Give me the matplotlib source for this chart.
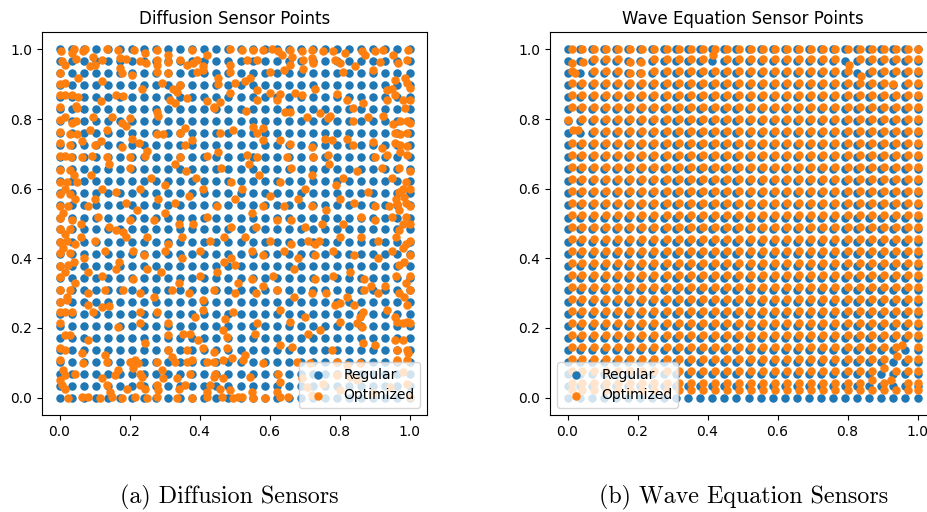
import numpy as np
import matplotlib
matplotlib.use("Agg")
import matplotlib.pyplot as plt

# regular 30x30 sensor grid coordinates
grid_vals = [0.0, 0.0345, 0.069, 0.1034, 0.1379, 0.1724, 0.2069, 0.2414, 0.2759, 0.3103,
             0.3448, 0.3793, 0.4138, 0.4483, 0.4828, 0.5172, 0.5517, 0.5862, 0.6207, 0.6552,
             0.6897, 0.7241, 0.7586, 0.7931, 0.8276, 0.8621, 0.8966, 0.931, 0.9655, 1.0]

# optimized diffusion sensors
diff_pts = [
    # top band
    (0.003, 0.994), (0.037, 0.991), (0.040, 1.0), (0.068, 0.994), (0.073, 1.0), (0.097, 0.979),
    (0.135, 1.0), (0.168, 0.999), (0.214, 0.999), (0.244, 0.991), (0.278, 0.999), (0.311, 0.984),
    (0.378, 0.997), (0.420, 0.984), (0.487, 1.0),
    (0.006, 0.968), (0.016, 0.955), (0.047, 0.972), (0.087, 0.951), (0.101, 0.955), (0.120, 0.970),
    (0.173, 0.975), (0.190, 0.972), (0.230, 0.968), (0.247, 0.960), (0.278, 0.970), (0.278, 0.955),
    (0.311, 0.965), (0.344, 0.970), (0.363, 0.955), (0.382, 0.960), (0.392, 0.970), (0.411, 0.953),
    (0.487, 0.955),
    (0.001, 0.933), (0.173, 0.946), (0.178, 0.932), (0.206, 0.927), (0.278, 0.936), (0.311, 0.933),
    (0.392, 0.936), (0.411, 0.941), (0.487, 0.936),
    (0.0, 0.901), (0.016, 0.903), (0.054, 0.917), (0.120, 0.910), (0.235, 0.886), (0.292, 0.903),
    (0.325, 0.886), (0.335, 0.879), (0.344, 0.898), (0.454, 0.917), (0.454, 0.900), (0.501, 0.903),
    (0.0, 0.869), (0.016, 0.869), (0.035, 0.869), (0.054, 0.864), (0.119, 0.853), (0.161, 0.869),
    (0.182, 0.867), (0.316, 0.855), (0.330, 0.845), (0.363, 0.860), (0.420, 0.852), (0.440, 0.831),
    (0.459, 0.850), (0.487, 0.874),
    (0.001, 0.834), (0.047, 0.838), (0.051, 0.831), (0.278, 0.819), (0.441, 0.836),
    (0.0, 0.797), (0.016, 0.805), (0.035, 0.788), (0.047, 0.793), (0.097, 0.807), (0.149, 0.805),
    (0.178, 0.788), (0.190, 0.781), (0.201, 0.802), (0.282, 0.809),
    (0.0, 0.764), (0.030, 0.757), (0.049, 0.757), (0.087, 0.769), (0.135, 0.769), (0.206, 0.742),
    (0.278, 0.757), (0.297, 0.756), (0.344, 0.761), (0.359, 0.773), (0.378, 0.740), (0.459, 0.759),
    (0.497, 0.769),
    (0.0, 0.730), (0.030, 0.726), (0.063, 0.738), (0.101, 0.726), (0.119, 0.738), (0.178, 0.721),
    (0.228, 0.730), (0.249, 0.709), (0.359, 0.726), (0.454, 0.706),
    (0.001, 0.694), (0.016, 0.694), (0.033, 0.692), (0.063, 0.692), (0.092, 0.694), (0.135, 0.692),
    (0.201, 0.692), (0.244, 0.694), (0.344, 0.692), (0.420, 0.694),
    (0.521, 0.999), (0.535, 0.970), (0.554, 0.997), (0.563, 0.970), (0.582, 0.997), (0.606, 1.0),
    (0.625, 0.994), (0.635, 0.984), (0.659, 0.999), (0.663, 0.979), (0.659, 0.955), (0.692, 0.994),
    (0.697, 0.970), (0.720, 0.999), (0.720, 0.975), (0.725, 0.960), (0.754, 0.994), (0.782, 0.994),
    (0.787, 0.970), (0.801, 0.960), (0.816, 0.989), (0.844, 0.951), (0.863, 0.994), (0.873, 0.984),
    (0.901, 0.994), (0.916, 0.965), (0.925, 0.999), (0.954, 0.984), (0.968, 0.960), (0.997, 0.999),
    (0.992, 0.970),
    (0.530, 0.908), (0.544, 0.917), (0.601, 0.936), (0.640, 0.941), (0.697, 0.943), (0.811, 0.936),
    (0.897, 0.941), (0.958, 0.912), (0.987, 0.917), (0.992, 0.903), (1.0, 0.888),
    (0.563, 0.884), (0.563, 0.855), (0.601, 0.874), (0.620, 0.855), (0.630, 0.872), (0.673, 0.874),
    (0.692, 0.869), (0.730, 0.886), (0.792, 0.872), (0.822, 0.855), (0.868, 0.847), (0.935, 0.884),
    (0.949, 0.886), (0.935, 0.855), (0.958, 0.869), (0.982, 0.855), (1.0, 0.855), (0.987, 0.831),
    (0.533, 0.824), (0.644, 0.821), (0.659, 0.821), (0.744, 0.818), (0.773, 0.809), (0.768, 0.802),
    (0.839, 0.831), (0.882, 0.805), (0.925, 0.809),
    (0.706, 0.805), (0.839, 0.793), (0.954, 0.786), (0.973, 0.793), (0.992, 0.793), (1.0, 0.788),
    (0.552, 0.776), (0.563, 0.761), (0.582, 0.773), (0.958, 0.759), (0.973, 0.757), (0.992, 0.759),
    (0.580, 0.740), (0.630, 0.740), (0.659, 0.728), (0.759, 0.742), (0.778, 0.740), (0.820, 0.742),
    (0.839, 0.726), (0.897, 0.735), (0.958, 0.730), (0.973, 0.726), (0.992, 0.723),
    (0.535, 0.697), (0.563, 0.692), (0.649, 0.692), (0.720, 0.719), (0.725, 0.692), (0.768, 0.697),
    (0.901, 0.692), (0.920, 0.716), (0.935, 0.697), (0.973, 0.706), (0.992, 0.697),
    # middle band
    (0.0, 0.655), (0.03, 0.655), (0.0, 0.62), (0.02, 0.62), (0.0, 0.586), (0.03, 0.586),
    (0.0, 0.55), (0.025, 0.55), (0.0, 0.517), (0.0, 0.483), (0.03, 0.483), (0.0, 0.448),
    (0.02, 0.45), (0.0, 0.414), (0.03, 0.414), (0.0, 0.379), (0.025, 0.38), (0.0, 0.345),
    (0.0, 0.31), (0.03, 0.31),
    (0.04, 0.64), (0.015, 0.6), (0.045, 0.57), (0.01, 0.53), (0.035, 0.51), (0.015, 0.47),
    (0.045, 0.44), (0.01, 0.43), (0.04, 0.39), (0.015, 0.36), (0.045, 0.33), (0.02, 0.29),
    (0.09, 0.64), (0.2, 0.66), (0.26, 0.63), (0.36, 0.65), (0.46, 0.66), (0.57, 0.64),
    (0.66, 0.66), (0.72, 0.64), (0.85, 0.65),
    (0.05, 0.62), (0.14, 0.67), (0.23, 0.6), (0.33, 0.67), (0.39, 0.63), (0.49, 0.62),
    (0.54, 0.67), (0.63, 0.62), (0.77, 0.67), (0.81, 0.63), (0.92, 0.66),
    (0.12, 0.60), (0.16, 0.59), (0.3, 0.61), (0.41, 0.6), (0.52, 0.6), (0.6, 0.58),
    (0.7, 0.6), (0.79, 0.61), (0.88, 0.59),
    (0.1, 0.57), (0.19, 0.56), (0.28, 0.57), (0.37, 0.58), (0.5, 0.57), (0.58, 0.55),
    (0.68, 0.57), (0.72, 0.55), (0.8, 0.57), (0.9, 0.55),
    (0.08, 0.55), (0.22, 0.54), (0.33, 0.56), (0.45, 0.55), (0.55, 0.53), (0.64, 0.55),
    (0.76, 0.54), (0.84, 0.56),
    (0.11, 0.52), (0.2, 0.51), (0.3, 0.53), (0.34, 0.5), (0.42, 0.52), (0.56, 0.49),
    (0.66, 0.51), (0.75, 0.5), (0.86, 0.52),
    (0.06, 0.5), (0.14, 0.49), (0.27, 0.51), (0.38, 0.5), (0.49, 0.49), (0.62, 0.51),
    (0.7, 0.49), (0.81, 0.5), (0.9, 0.51),
    (0.06, 0.46), (0.16, 0.48), (0.18, 0.475), (0.25, 0.46), (0.35, 0.46), (0.47, 0.46),
    (0.6, 0.45), (0.71, 0.45), (0.73, 0.44), (0.8, 0.46), (0.91, 0.45),
    (0.1, 0.45), (0.19, 0.46), (0.31, 0.44), (0.43, 0.45), (0.53, 0.46), (0.66, 0.44),
    (0.74, 0.45), (0.86, 0.46),
    (0.13, 0.42), (0.21, 0.42), (0.3, 0.42), (0.4, 0.42), (0.49, 0.40), (0.5, 0.38),
    (0.55, 0.42), (0.64, 0.42), (0.73, 0.41), (0.84, 0.41),
    (0.07, 0.4), (0.17, 0.39), (0.24, 0.41), (0.35, 0.4), (0.47, 0.39), (0.58, 0.41),
    (0.68, 0.4), (0.78, 0.42), (0.91, 0.4),
    (0.08, 0.36), (0.16, 0.37), (0.25, 0.37), (0.34, 0.33), (0.45, 0.36), (0.55, 0.34),
    (0.58, 0.32), (0.67, 0.37), (0.78, 0.35), (0.87, 0.34), (0.89, 0.32),
    (0.12, 0.35), (0.21, 0.34), (0.29, 0.36), (0.4, 0.35), (0.51, 0.33), (0.61, 0.35),
    (0.73, 0.34), (0.83, 0.36),
    (0.13, 0.31), (0.23, 0.3), (0.32, 0.31), (0.41, 0.28), (0.5, 0.3), (0.62, 0.31),
    (0.72, 0.3), (0.82, 0.29), (0.91, 0.3),
    (0.08, 0.3), (0.18, 0.31), (0.27, 0.29), (0.37, 0.3), (0.44, 0.31), (0.56, 0.3),
    (0.67, 0.29), (0.76, 0.3), (0.87, 0.31),
    (0.97, 0.66), (1.0, 0.65), (0.99, 0.62), (1.0, 0.6), (0.97, 0.59), (0.96, 0.57),
    (0.99, 0.56), (1.0, 0.55), (0.97, 0.54), (0.99, 0.52), (1.0, 0.5), (0.97, 0.48),
    (1.0, 0.45), (0.98, 0.43), (1.0, 0.41), (0.97, 0.38), (1.0, 0.35), (0.99, 0.33),
    (1.0, 0.31), (0.97, 0.3),
    (0.95, 0.63), (0.98, 0.6), (0.94, 0.55), (0.965, 0.555), (0.985, 0.575), (0.95, 0.52),
    (0.98, 0.5), (0.96, 0.46), (0.99, 0.44), (0.95, 0.42), (0.985, 0.39), (0.96, 0.35),
    (0.93, 0.32), (0.985, 0.29),
    # bottom band
    (0.001, 0.275), (0.020, 0.280), (0.082, 0.266), (0.120, 0.261), (0.140, 0.263), (0.230, 0.247),
    (0.278, 0.247), (0.387, 0.232), (0.411, 0.251), (0.473, 0.227), (0.497, 0.247),
    (0.001, 0.247), (0.016, 0.247), (0.035, 0.247), (0.097, 0.247),
    (0.001, 0.214), (0.168, 0.204), (0.230, 0.214), (0.311, 0.214), (0.354, 0.184), (0.373, 0.184),
    (0.397, 0.165), (0.468, 0.194), (0.478, 0.175),
    (0.016, 0.180), (0.030, 0.180), (0.082, 0.165), (0.244, 0.156), (0.311, 0.180),
    (0.0, 0.141), (0.016, 0.136), (0.063, 0.127), (0.130, 0.122), (0.135, 0.103), (0.311, 0.136),
    (0.320, 0.117), (0.363, 0.136), (0.411, 0.141), (0.440, 0.132), (0.478, 0.141),
    (0.001, 0.108), (0.068, 0.098), (0.168, 0.079), (0.201, 0.103), (0.216, 0.108), (0.225, 0.098),
    (0.211, 0.084), (0.278, 0.103), (0.292, 0.079), (0.330, 0.103), (0.363, 0.103), (0.378, 0.108),
    (0.420, 0.103), (0.440, 0.103), (0.468, 0.108), (0.492, 0.113),
    (0.011, 0.079), (0.016, 0.065), (0.044, 0.069), (0.120, 0.055), (0.159, 0.065), (0.230, 0.069),
    (0.235, 0.058), (0.297, 0.055), (0.335, 0.055), (0.373, 0.069), (0.440, 0.060), (0.444, 0.069),
    (0.468, 0.055),
    (0.001, 0.050), (0.006, 0.036), (0.016, 0.026), (0.135, 0.036), (0.144, 0.017), (0.192, 0.026),
    (0.230, 0.036), (0.244, 0.026), (0.278, 0.036), (0.282, 0.022), (0.340, 0.026), (0.359, 0.036),
    (0.420, 0.017), (0.430, 0.036), (0.459, 0.026), (0.487, 0.022),
    (0.025, 0.0), (0.063, 0.002), (0.082, 0.002), (0.116, 0.0), (0.149, 0.002), (0.178, 0.0),
    (0.216, 0.002), (0.249, 0.0), (0.278, 0.002), (0.335, 0.0), (0.378, 0.0), (0.420, 0.002),
    (0.463, 0.002), (0.497, 0.0), (0.511, 0.002),
    (0.630, 0.251), (0.701, 0.232), (0.787, 0.266), (0.801, 0.271), (0.840, 0.266), (0.868, 0.247),
    (0.935, 0.251), (0.958, 0.232), (0.992, 0.266),
    (0.563, 0.213), (0.559, 0.184), (0.659, 0.218), (0.711, 0.184), (0.744, 0.194), (0.801, 0.218),
    (0.849, 0.213), (0.859, 0.232), (0.863, 0.204), (0.963, 0.218), (0.982, 0.213), (0.992, 0.218),
    (1.0, 0.213),
    (0.630, 0.151), (0.663, 0.146), (0.778, 0.136), (0.868, 0.156), (0.901, 0.151), (0.958, 0.165),
    (0.982, 0.165), (0.963, 0.136), (0.992, 0.136), (0.997, 0.127),
    (0.525, 0.108), (0.530, 0.122), (0.582, 0.098), (0.678, 0.103), (0.716, 0.098), (0.792, 0.103),
    (0.820, 0.093), (0.859, 0.098), (0.963, 0.108), (0.992, 0.108),
    (0.544, 0.060), (0.625, 0.068), (0.630, 0.046), (0.692, 0.055), (0.792, 0.065), (0.830, 0.060),
    (0.982, 0.074),
    (0.520, 0.002), (0.549, 0.017), (0.554, 0.0), (0.587, 0.0), (0.620, 0.017), (0.630, 0.002),
    (0.654, 0.002), (0.706, 0.031), (0.720, 0.007),
    (0.754, 0.040), (0.801, 0.021), (0.849, 0.050), (0.897, 0.012), (0.944, 0.031), (0.992, 0.040),
    (1.0, 0.002),
]
diff_opt_x = [p[0] for p in diff_pts]
diff_opt_y = [p[1] for p in diff_pts]

# wave-equation optimized sensors: per-column / per-row displacement from the grid
wave_col_shift = [0.014] + [0.007] * 28 + [0.0]
wave_row_shift = [0.022] + [0.006] * 28 + [0.0]
# individual sensors that moved further: (column, row, x, y)
wave_moved = [
    (1, 27, 0.021, 0.932), (1, 28, 0.045, 0.965), (0, 28, 0.012, 0.962),
    (5, 28, 0.178, 0.965), (5, 27, 0.178, 0.932), (6, 28, 0.211, 0.965),
    (6, 27, 0.211, 0.932), (12, 28, 0.416, 0.984), (0, 23, 0.0, 0.797),
    (0, 22, 0.016, 0.769), (1, 22, 0.03, 0.769),
    (23, 28, 0.805, 0.955), (24, 27, 0.838, 0.925), (27, 26, 0.93, 0.90),
    (26, 2, 0.905, 0.085), (27, 3, 0.94, 0.12), (27, 1, 0.925, 0.05),
    (28, 4, 0.955, 0.15), (25, 1, 0.87, 0.05),
]

gx, gy = np.meshgrid(grid_vals, grid_vals)
reg_x = gx.ravel()
reg_y = gy.ravel()
sx, sy = np.meshgrid(wave_col_shift, wave_row_shift)
wx = gx + sx
wy = gy + sy
for ci, ri, nx, ny in wave_moved:
    wx[ri, ci] = nx
    wy[ri, ci] = ny
wave_opt_x = wx.ravel()
wave_opt_y = wy.ravel()

W, H = 927, 512
fig = plt.figure(figsize=(W / 100, H / 100), dpi=100)
ax1 = fig.add_axes([42 / W, 1 - 415 / H, 385 / W, 383 / H])
ax2 = fig.add_axes([550 / W, 1 - 415 / H, 385 / W, 383 / H])

S = 26
ax1.scatter(reg_x, reg_y, s=S, color="#1f77b4", label="Regular")
ax1.scatter(diff_opt_x, diff_opt_y, s=S, color="#ff7f0e", label="Optimized")
ax1.set_title("Diffusion Sensor Points")
ax1.legend(loc="lower right")

ax2.scatter(reg_x, reg_y, s=S, color="#1f77b4", label="Regular")
ax2.scatter(wave_opt_x, wave_opt_y, s=S, color="#ff7f0e", label="Optimized")
ax2.set_title("Wave Equation Sensor Points")
ax2.legend(loc="lower left")

for ax in (ax1, ax2):
    ax.set_xlim(-0.05, 1.05)
    ax.set_ylim(-0.05, 1.05)
    ax.set_xticks([0.0, 0.2, 0.4, 0.6, 0.8, 1.0])
    ax.set_yticks([0.0, 0.2, 0.4, 0.6, 0.8, 1.0])

fig.text(229 / W, 1 - 497 / H, "(a) Diffusion Sensors", ha="center", va="center",
         fontfamily="cmr10", fontsize=17.3)
fig.text(744 / W, 1 - 497 / H, "(b) Wave Equation Sensors", ha="center", va="center",
         fontfamily="cmr10", fontsize=17.3)

fig.savefig("out.png", dpi=100)
